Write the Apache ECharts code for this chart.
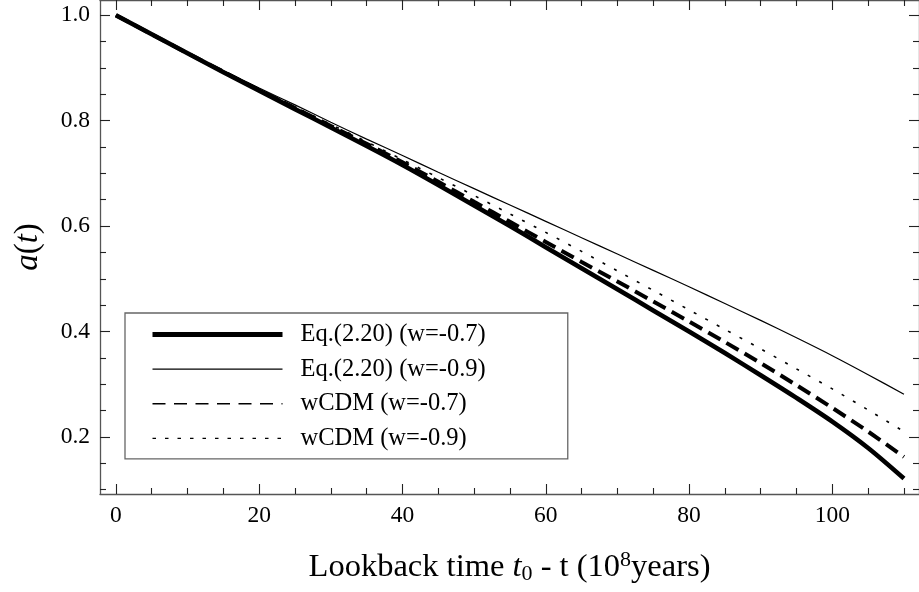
<!DOCTYPE html>
<html>
<head>
<meta charset="utf-8">
<script src="https://cdn.jsdelivr.net/npm/echarts@6/dist/echarts.min.js"></script>
<style>
html,body{margin:0;padding:0;background:#fff;}
#chart{width:919px;height:592px;}
</style>
</head>
<body>
<div id="chart"></div>
<script>
// ---- data ----
var lookback = [0, 5, 10, 15, 20, 25, 30, 35, 40, 45, 50, 55, 60, 65, 70, 75, 80, 85, 90, 95, 100, 105, 110];
var eqW07   = [1.000, 0.964, 0.928, 0.892, 0.857, 0.822, 0.787, 0.752, 0.716, 0.678, 0.639, 0.600, 0.560, 0.520, 0.480, 0.440, 0.400, 0.359, 0.317, 0.274, 0.229, 0.179, 0.121];
var eqW09   = [1.000, 0.964, 0.929, 0.895, 0.862, 0.830, 0.797, 0.765, 0.734, 0.702, 0.671, 0.640, 0.609, 0.578, 0.547, 0.516, 0.485, 0.453, 0.421, 0.388, 0.354, 0.318, 0.281];
var wcdmW07 = [1.000, 0.964, 0.928, 0.893, 0.858, 0.824, 0.790, 0.756, 0.721, 0.684, 0.646, 0.608, 0.570, 0.532, 0.495, 0.457, 0.419, 0.380, 0.340, 0.298, 0.255, 0.210, 0.162];
var wcdmW09 = [1.000, 0.964, 0.929, 0.894, 0.860, 0.826, 0.793, 0.760, 0.726, 0.692, 0.658, 0.623, 0.588, 0.552, 0.515, 0.478, 0.441, 0.404, 0.367, 0.329, 0.291, 0.251, 0.210];
var seriesNames = ['Eq.(2.20) (w=-0.7)', 'Eq.(2.20) (w=-0.9)', 'wCDM (w=-0.7)', 'wCDM (w=-0.9)'];
var xMajorTicks = [0, 20, 40, 60, 80, 100];
var xMinorTicks = [5, 10, 15, 25, 30, 35, 45, 50, 55, 65, 70, 75, 85, 90, 95, 105, 110];
var yMajorTicks = [0.2, 0.4, 0.6, 0.8, 1.0];
var yMinorTicks = [0.1, 0.15, 0.25, 0.3, 0.35, 0.45, 0.5, 0.55, 0.65, 0.7, 0.75, 0.85, 0.9, 0.95];

var XMIN = -2.22, XMAX = 112.1, YMIN = 0.0916, YMAX = 1.029;
var FONT = 'Liberation Serif';

function pairs(ys) { return lookback.map(function (x, i) { return [x, ys[i]]; }); }

var gridPos = { left: 100, right: -4, top: 0, bottom: 98 };

function xAx(grid, pos, ticks, len, showLine, labels, extra) {
  var a = {
    type: 'value', gridIndex: grid, position: pos, min: XMIN, max: XMAX,
    axisLine: { show: showLine, onZero: false, lineStyle: { color: '#555', width: 1.3 } },
    axisTick: { show: true, inside: true, length: len, customValues: ticks, lineStyle: { color: '#222', width: 1.1 } },
    axisLabel: labels ? { show: true, customValues: labels, margin: 10, fontFamily: FONT, fontSize: 23.5, color: '#000' } : { show: false },
    splitLine: { show: false }
  };
  return Object.assign(a, extra || {});
}
function yAx(grid, pos, ticks, len, showLine, labels, extra) {
  var a = {
    type: 'value', gridIndex: grid, position: pos, min: YMIN, max: YMAX,
    axisLine: { show: showLine, onZero: false, lineStyle: { color: '#555', width: 1.3 } },
    axisTick: { show: true, inside: true, length: len, customValues: ticks, lineStyle: { color: '#222', width: 1.1 } },
    axisLabel: labels ? { show: true, customValues: labels, margin: 10, fontFamily: FONT, fontSize: 23.5, color: '#000',
      formatter: function (v) { return v.toFixed(1); } } : { show: false },
    splitLine: { show: false }
  };
  return Object.assign(a, extra || {});
}

var chart = echarts.init(document.getElementById('chart'), null, { renderer: 'canvas' });
chart.setOption({
  animation: false,
  backgroundColor: '#fff',
  grid: [Object.assign({}, gridPos), Object.assign({}, gridPos)],
  xAxis: [
    xAx(0, 'bottom', xMajorTicks, 10, true, xMajorTicks, {
      name: '{a|Lookback time }{i|t}{s|0}{a| - t (10}{p|8}{a|years)}',
      nameLocation: 'middle', nameGap: 55,
      nameTextStyle: {
        fontFamily: FONT, fontSize: 32.5, color: '#000',
        rich: {
          a: { fontFamily: FONT, fontSize: 32.5, color: '#000' },
          i: { fontFamily: FONT, fontSize: 32.5, fontStyle: 'italic', color: '#000' },
          s: { fontFamily: FONT, fontSize: 22, color: '#000', padding: [13, 0, 0, 0] },
          p: { fontFamily: FONT, fontSize: 22, color: '#000', padding: [0, 0, 15, 0] }
        }
      }
    }),
    xAx(0, 'top', xMajorTicks, 10, true, null),
    xAx(1, 'bottom', xMinorTicks, 6, false, null),
    xAx(1, 'top', xMinorTicks, 6, false, null)
  ],
  yAxis: [
    yAx(0, 'left', yMajorTicks, 10, true, yMajorTicks, {
      name: '{i|a}{n|(}{i|t}{n|)}',
      nameLocation: 'middle', nameGap: 55, nameRotate: 90,
      nameTextStyle: {
        fontFamily: FONT, fontSize: 33, color: '#000',
        rich: {
          i: { fontFamily: FONT, fontSize: 33, fontStyle: 'italic', color: '#000' },
          n: { fontFamily: FONT, fontSize: 33, color: '#000' }
        }
      }
    }),
    yAx(0, 'right', yMajorTicks, 10, true, null),
    yAx(1, 'left', yMinorTicks, 6, false, null),
    yAx(1, 'right', yMinorTicks, 6, false, null)
  ],
  legend: {
    orient: 'vertical', left: 125, top: 313,
    padding: [9, 82, 8, 25],
    itemWidth: 130, itemHeight: 24, itemGap: 9.6,
    borderColor: '#666', borderWidth: 1.3,
    backgroundColor: '#fff',
    selectedMode: false,
    textStyle: { fontFamily: FONT, fontSize: 24.5, color: '#000', padding: [0, 0, 0, 13] },
    data: [
      { name: seriesNames[0], lineStyle: { width: 5, type: 'solid', color: '#000' }, itemStyle: { opacity: 0 } },
      { name: seriesNames[1], lineStyle: { width: 1.3, type: 'solid', color: '#000' }, itemStyle: { opacity: 0 } },
      { name: seriesNames[2], lineStyle: { width: 1.4, type: [13, 8.5], color: '#000' }, itemStyle: { opacity: 0 } },
      { name: seriesNames[3], lineStyle: { width: 1.3, type: [3.5, 9], color: '#000' }, itemStyle: { opacity: 0 } }
    ]
  },
  series: [
    { name: seriesNames[0], type: 'line', xAxisIndex: 0, yAxisIndex: 0, data: pairs(eqW07),
      symbol: 'none', smooth: 0.3, color: '#000', lineStyle: { color: '#000', width: 4.6, type: 'solid' } },
    { name: seriesNames[1], type: 'line', xAxisIndex: 0, yAxisIndex: 0, data: pairs(eqW09),
      symbol: 'none', smooth: 0.3, color: '#000', lineStyle: { color: '#000', width: 1.2, type: 'solid' } },
    { name: seriesNames[2], type: 'line', xAxisIndex: 0, yAxisIndex: 0, data: pairs(wcdmW07),
      symbol: 'none', smooth: 0.3, color: '#000', lineStyle: { color: '#000', width: 4, type: [14, 7] } },
    { name: seriesNames[3], type: 'line', xAxisIndex: 0, yAxisIndex: 0, data: pairs(wcdmW09),
      symbol: 'none', smooth: 0.3, color: '#000', lineStyle: { color: '#000', width: 1.6, type: [3, 10] } }
  ]
});
</script>
</body>
</html>
